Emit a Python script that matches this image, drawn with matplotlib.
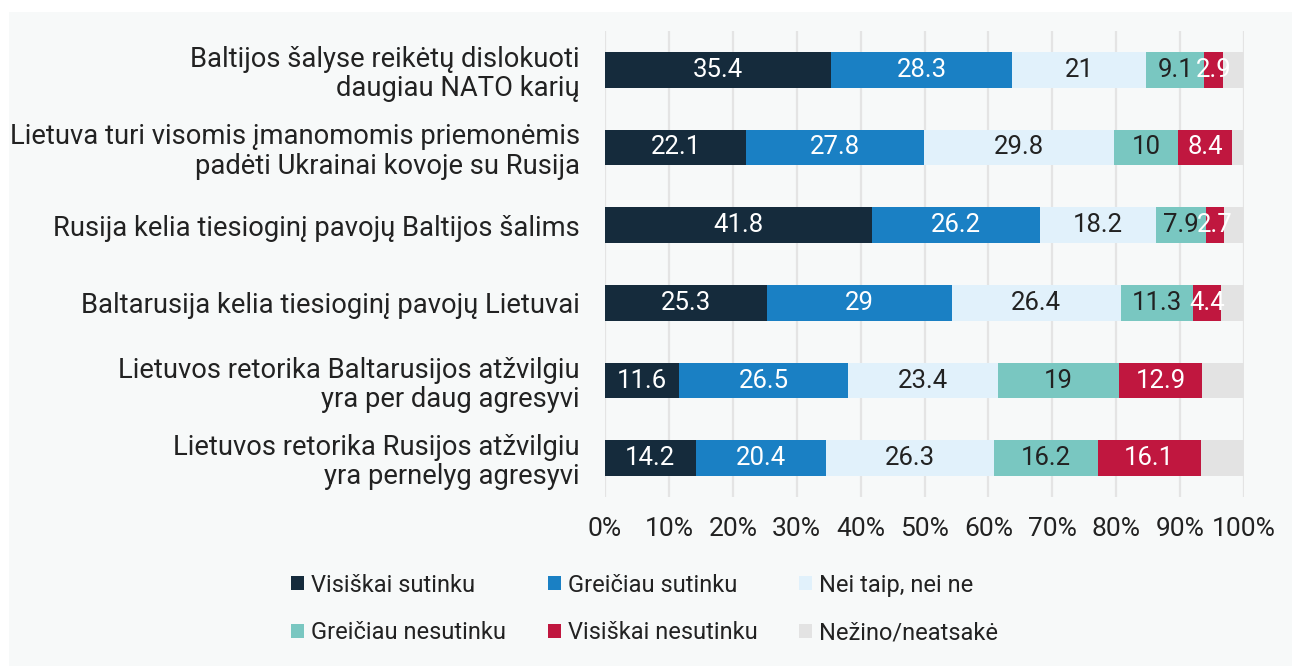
import matplotlib
matplotlib.use("Agg")
import matplotlib.pyplot as plt
from matplotlib.patches import Rectangle, Patch

plt.rcParams['font.family'] = ['Roboto', 'DejaVu Sans']

categories = [
    "Baltijos šalyse reikėtų dislokuoti\ndaugiau NATO karių",
    "Lietuva turi visomis įmanomomis priemonėmis\npadėti Ukrainai kovoje su Rusija",
    "Rusija kelia tiesioginį pavojų Baltijos šalims",
    "Baltarusija kelia tiesioginį pavojų Lietuvai",
    "Lietuvos retorika Baltarusijos atžvilgiu\nyra per daug agresyvi",
    "Lietuvos retorika Rusijos atžvilgiu\nyra pernelyg agresyvi",
]
series_names = ["Visiškai sutinku", "Greičiau sutinku", "Nei taip, nei ne",
                "Greičiau nesutinku", "Visiškai nesutinku", "Nežino/neatsakė"]
visiskai_sutinku = [35.4, 22.1, 41.8, 25.3, 11.6, 14.2]
greiciau_sutinku = [28.3, 27.8, 26.2, 29.0, 26.5, 20.4]
nei_taip_nei_ne = [21.0, 29.8, 18.2, 26.4, 23.4, 26.3]
greiciau_nesutinku = [9.1, 10.0, 7.9, 11.3, 19.0, 16.2]
visiskai_nesutinku = [2.9, 8.4, 2.7, 4.4, 12.9, 16.1]
nezino = [3.3, 1.9, 3.2, 3.6, 6.6, 6.8]
xticks = [0, 10, 20, 30, 40, 50, 60, 70, 80, 90, 100]

series = [visiskai_sutinku, greiciau_sutinku, nei_taip_nei_ne,
          greiciau_nesutinku, visiskai_nesutinku, nezino]
colors = ["#152b3c", "#1a80c4", "#e1f1fb", "#79c7c1", "#c0173f", "#e3e3e3"]
label_colors = ["white", "white", "#222222", "#222222", "white", None]

W, H = 1292, 666
fig = plt.figure(figsize=(W / 100, H / 100), dpi=100)
fig.patch.set_facecolor("white")
fig.patches.append(Rectangle((9 / W, 0), 1 - 9 / W, 1 - 12 / H,
                             transform=fig.transFigure, facecolor="#f7f9f9",
                             edgecolor="none", zorder=-10))

ax = fig.add_axes([605 / W, 1 - 497 / H, (1244 - 605) / W, (497 - 31) / H])
ax.set_facecolor("none")
ax.set_zorder(1)

ypos = list(range(len(categories)))
left = [0.0] * len(categories)
for vals, col, lc in zip(series, colors, label_colors):
    bars = ax.barh(ypos, vals, left=left, height=0.46, color=col,
                   edgecolor="none", zorder=2)
    if lc is not None:
        ax.bar_label(bars, labels=[f"{v:g}" for v in vals], label_type="center",
                     color=lc, fontsize=18.5)
    left = [l + v for l, v in zip(left, vals)]

ax.set_ylim(len(categories) - 0.5, -0.5)
ax.set_xlim(0, 100)
ax.set_yticks(ypos)
ax.set_yticklabels(categories, fontsize=19.7, color="#222222", linespacing=1.1)
ax.set_xticks(xticks)
ax.set_xticklabels([f"{t}%" for t in xticks], fontsize=19, color="#222222")
ax.tick_params(axis="both", length=0)
ax.tick_params(axis="x", pad=14.5)
ax.tick_params(axis="y", pad=18)
for s in ax.spines.values():
    s.set_visible(False)
ax.grid(axis="x", color="#e4e4e4", linewidth=1.6, zorder=1)
ax.set_axisbelow(True)

order = [0, 3, 1, 4, 2, 5]
handles = [Patch(facecolor=colors[i], edgecolor="none") for i in order]
labels = [series_names[i] for i in order]
fig.legend(handles, labels, ncol=3, loc="center left",
           bbox_to_anchor=(270 / W, 1 - 609 / H), frameon=False,
           fontsize=17, handlelength=0.55, handleheight=0.55,
           handletextpad=0.3, columnspacing=1.75, labelspacing=1.05,
           labelcolor="#222222")

fig.savefig("out.png", dpi=100)
